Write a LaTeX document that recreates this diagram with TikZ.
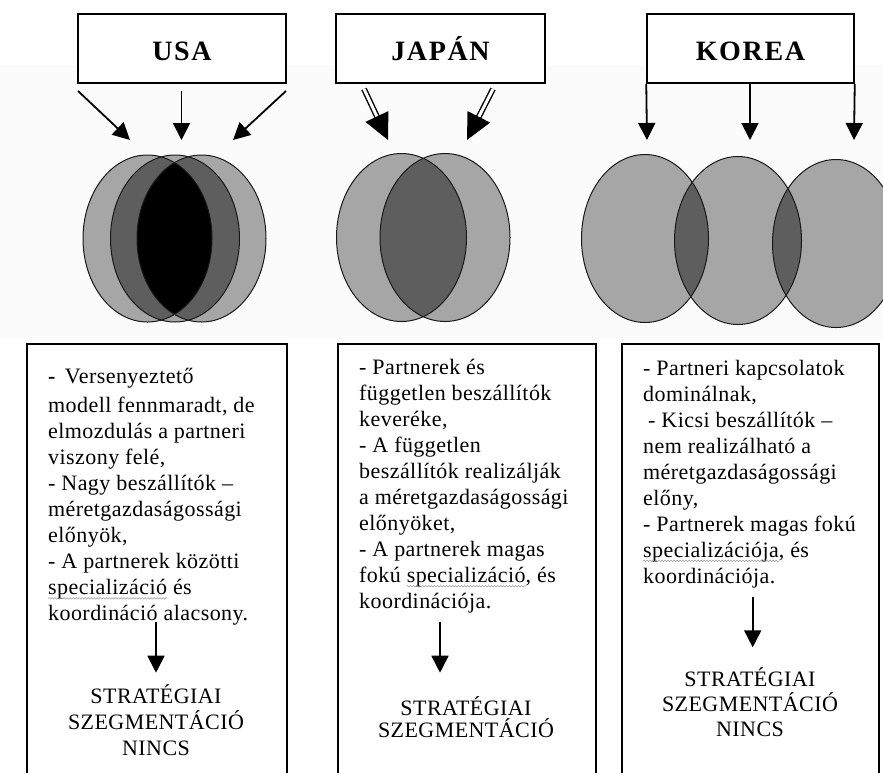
\documentclass[tikz,border=0pt]{standalone}
\usepackage{fontspec}
\setmainfont{Liberation Serif}
\usetikzlibrary{arrows.meta,decorations.pathmorphing}
% wavy spell-check style underline
\newsavebox\sqbox
\newlength\sqlen
\newcommand\squig[1]{\sbox\sqbox{#1}\setlength\sqlen{\wd\sqbox}%
  \rlap{\usebox\sqbox}%
  \tikz[overlay,baseline=0pt]\draw[black!40,line width=0.5pt,decorate,
    decoration={snake,amplitude=0.8pt,segment length=3pt}]
    (0pt,-3.8pt) -- (\sqlen,-3.8pt);%
  \hspace{\sqlen}}
\begin{document}
\begin{tikzpicture}[x=1pt,y=-1pt,
  hdr/.style={draw,line width=1.5pt,fill=white,inner sep=0pt,
    text height=23pt,text depth=0pt,
    font=\fontsize{28}{30}\selectfont\bfseries\addfontfeatures{LetterSpace=6}},
  panel/.style={draw,line width=1.5pt,inner sep=0pt,anchor=north west},
  body/.style={inner sep=0pt,align=left,anchor=base west,
    font=\fontsize{22}{26}\selectfont\addfontfeatures{LetterSpace=2}},
  verdict/.style={inner sep=0pt,align=center,anchor=base,
    font=\fontsize{22}{26}\selectfont\addfontfeatures{LetterSpace=2}},
  bigarrow/.style={line width=1.8pt,-{Triangle[length=17pt,width=17pt]}},
  dblarrow/.style={line width=1.4pt,double distance=3pt,-{Triangle[length=26pt,width=25pt]}},
  lite/.style={fill=black!35},
  dark/.style={fill=black!63},
  rim/.style={draw=black!90,line width=1pt},
  % USA circles
  uL/.style={insert path={(147.5,238.5) ellipse [x radius=64.5pt,y radius=83.5pt]}},
  uM/.style={insert path={(175,238.5) ellipse [x radius=64.5pt,y radius=83.5pt]}},
  uR/.style={insert path={(201.5,238.5) ellipse [x radius=64.5pt,y radius=83.5pt]}},
  % JAPAN circles
  jL/.style={insert path={(401.5,237.5) ellipse [x radius=65pt,y radius=84pt]}},
  jR/.style={insert path={(445,237.5) ellipse [x radius=65pt,y radius=84pt]}},
  % KOREA circles
  kA/.style={insert path={(645,238.5) ellipse [x radius=63.5pt,y radius=84pt]}},
  kB/.style={insert path={(738,240.5) ellipse [x radius=63.5pt,y radius=84pt]}},
  kC/.style={insert path={(836,243.5) ellipse [x radius=63.5pt,y radius=84pt]}},
]
\useasboundingbox (0,0) rectangle (883,772);
\clip (0,0) rectangle (883,772);
\fill[black!1.5] (0,65) rectangle (883,338);

% ---------- header boxes ----------
\node[hdr,minimum width=208pt,minimum height=69pt] (usa) at (182,48.5) {USA};
\node[hdr,minimum width=209pt,minimum height=69pt] (jap) at (440.5,48.5) {JAPÁN};
\node[hdr,minimum width=207pt,minimum height=69pt] (kor) at (750.5,48.5) {KOREA};

% ---------- USA circles ----------
\fill[lite,uL]; \fill[lite,uM]; \fill[lite,uR];
\begin{scope}\clip[uL]; \fill[dark,uM]; \fill[dark,uR];\end{scope}
\begin{scope}\clip[uM]; \fill[dark,uR];\end{scope}
\begin{scope}\clip[uL]; \clip[uR]; \fill[black,uM];\end{scope}
\draw[rim,uL]; \draw[rim,uM]; \draw[rim,uR];

% ---------- JAPAN circles ----------
\fill[lite,jL]; \fill[lite,jR];
\begin{scope}\clip[jL]; \fill[dark,jR];\end{scope}
\draw[rim,jL]; \draw[rim,jR];

% ---------- KOREA circles ----------
\fill[lite,kA]; \fill[lite,kB]; \fill[lite,kC];
\begin{scope}\clip[kA]; \fill[dark,kB];\end{scope}
\begin{scope}\clip[kB]; \fill[dark,kC];\end{scope}
\draw[rim,kA]; \draw[rim,kB]; \draw[rim,kC];

% ---------- arrows from the headers ----------
\coordinate (u1s) at (78,91);   \coordinate (u1e) at (130,140);
\coordinate (u2s) at (181.5,91);\coordinate (u2e) at (181.5,140);
\coordinate (u3s) at (286,91);  \coordinate (u3e) at (233,140);
\draw[bigarrow] (u1s) -- (u1e);
\draw[bigarrow] (u2s) -- (u2e);
\draw[bigarrow] (u3s) -- (u3e);

\coordinate (j1s) at (364,89);  \coordinate (j1e) at (388,140);
\coordinate (j2s) at (493,89);  \coordinate (j2e) at (467,140);
\draw[dblarrow] (j1s) -- (j1e);
\draw[dblarrow] (j2s) -- (j2e);

\coordinate (k1e) at (647,140);
\coordinate (k2s) at (750,83);  \coordinate (k2e) at (750,140);
\coordinate (k3e) at (854,140);
\draw[bigarrow] (kor.south west) -- (k1e);
\draw[bigarrow] (k2s) -- (k2e);
\draw[bigarrow] (kor.south east) -- (k3e);

% ---------- lower panels ----------
\node[panel,minimum width=260pt,minimum height=460pt] (usaP) at (26,343) {};
\node[panel,minimum width=258pt,minimum height=460pt] (japP) at (337,343) {};
\node[panel,minimum width=257pt,minimum height=460pt] (korP) at (621,343) {};

% text blocks are anchored at the baseline of their last line
\node[body] (usaT) at (48,620.5) {\textbf{-}\hspace{9pt}Versenyeztető\\[3pt]
modell fennmaradt, de\\
elmozdulás a partneri\\
viszony felé,\\
- Nagy beszállítók –\\
méretgazdaságossági\\
előnyök,\\
- A partnerek közötti\\
\squig{specializáció} és\\
koordináció alacsony.};

\node[body] (japT) at (359,608.5) {- Partnerek és\\
független beszállítók\\
keveréke,\\
- A független\\
beszállítók realizálják\\
a méretgazdaságossági\\
előnyöket,\\
- A partnerek magas\\
fokú \squig{specializáció}, és\\
koordinációja.};

\node[body] (korT) at (643,583) {- Partneri kapcsolatok\\
dominálnak,\\
\hspace{5pt}- Kicsi beszállítók –\\
nem realizálható a\\
méretgazdaságossági\\
előny,\\
- Partnerek magas fokú\\
\squig{specializációja}, és\\
koordinációja.};

\node[verdict] (usaV) at (156,755) {STRATÉGIAI\\SZEGMENTÁCIÓ\\NINCS};
\node[verdict] (japV) at (466,737.5) {STRATÉGIAI\\[-4pt]SZEGMENTÁCIÓ};
\node[verdict] (korV) at (750,736.7) {STRATÉGIAI\\[-1pt]SZEGMENTÁCIÓ\\[-1pt]NINCS};

\coordinate (ua) at (156,621.7);  \coordinate (ub) at (156,672.7);
\coordinate (ja) at (440,621.7);  \coordinate (jb) at (440,672.7);
\coordinate (ka) at (752.7,596.7);\coordinate (kb) at (752.7,647.3);
\draw[bigarrow] (ua) -- (ub);
\draw[bigarrow] (ja) -- (jb);
\draw[bigarrow] (ka) -- (kb);
\end{tikzpicture}
\end{document}
